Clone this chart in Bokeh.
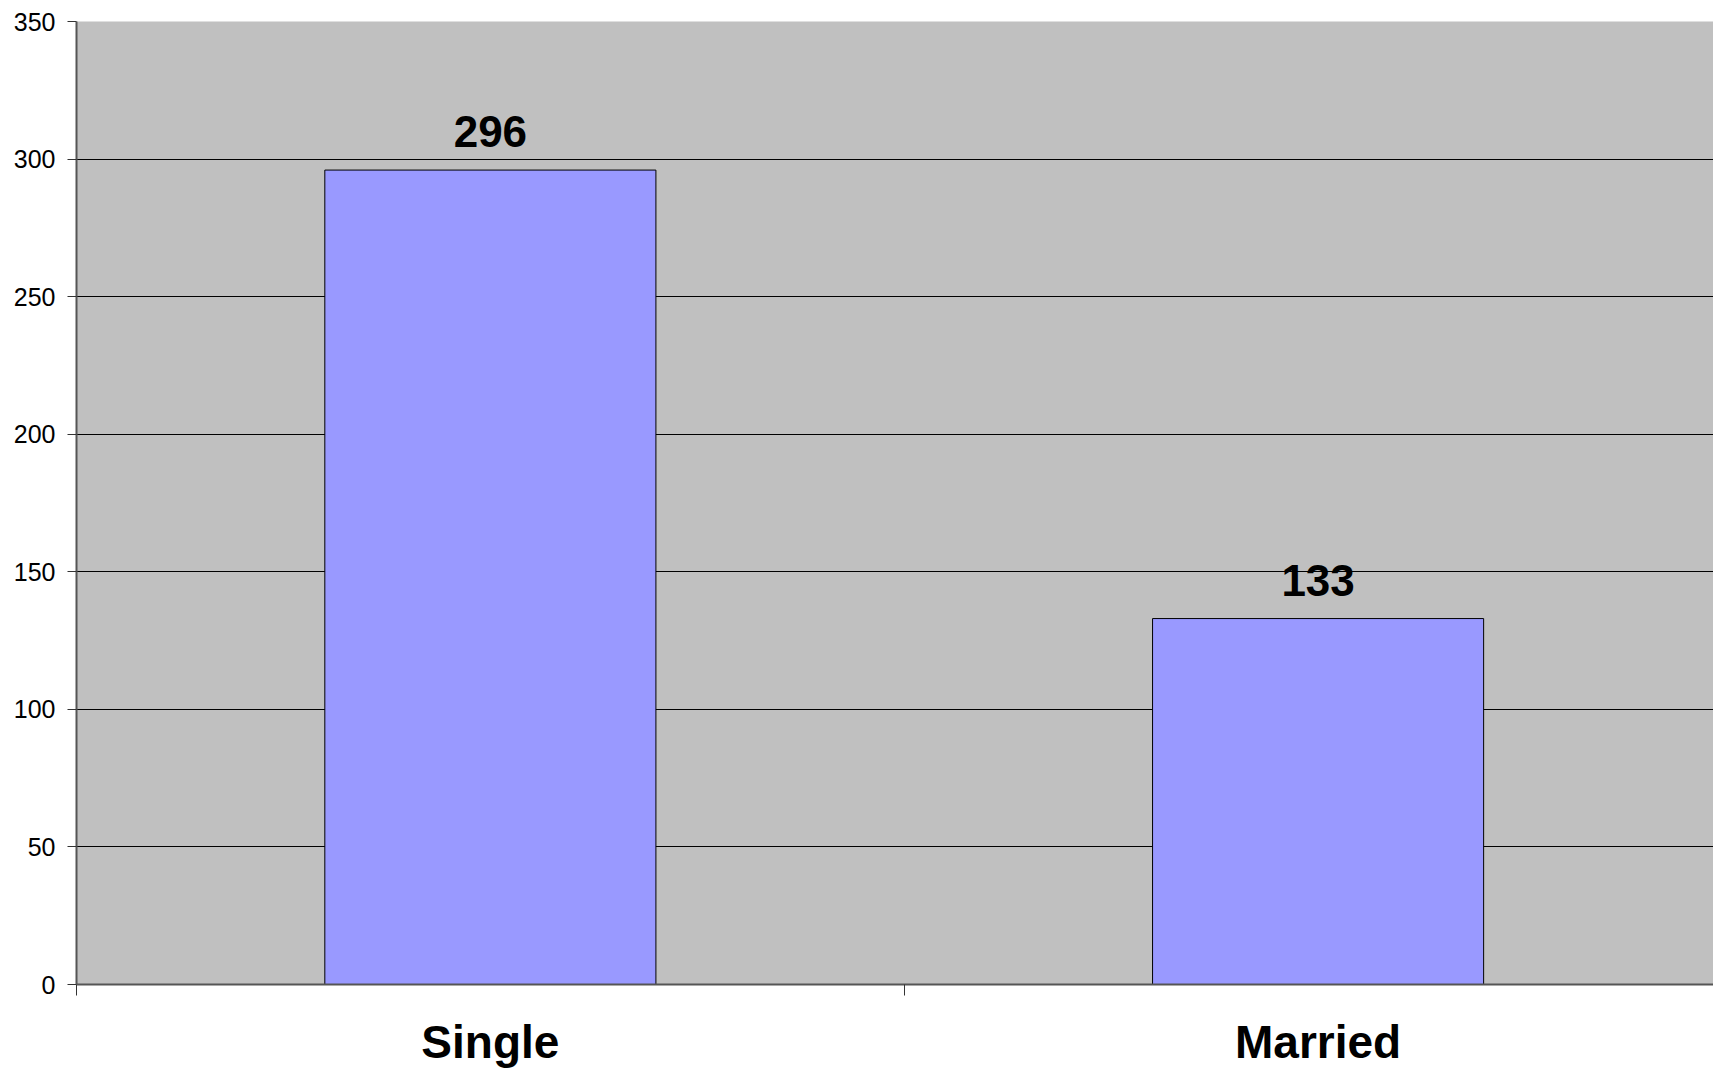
from bokeh.plotting import figure
from bokeh.models import Range1d, FixedTicker, ColumnDataSource, LabelSet
from bokeh.core.properties import value
from bokeh.embed import file_html
from bokeh.resources import INLINE

categories = ["Single", "Married"]
counts = [296, 133]
y_ticks = [0, 50, 100, 150, 200, 250, 300, 350]

xs = [i + 0.5 for i in range(len(categories))]
bounds = list(range(len(categories) + 1))
FONT = "Liberation Sans"

p = figure(width=1713, height=1071, output_backend="svg", toolbar_location=None,
           x_range=Range1d(0, 1.9777), y_range=Range1d(0, 350),
           min_border_left=76, min_border_right=0, min_border_top=21, min_border_bottom=87)
p.background_fill_color = "#C0C0C0"
p.border_fill_color = "white"
p.outline_line_color = None

src = ColumnDataSource(dict(x=xs, top=counts, label=[str(c) for c in counts]))
p.vbar(x="x", top="top", width=0.4, source=src, fill_color="#9999FF",
       line_color="black", line_width=1)

# y axis
p.yaxis.ticker = FixedTicker(ticks=y_ticks)
p.yaxis.major_label_text_font = FONT
p.yaxis.major_label_text_font_size = "25px"
p.yaxis.major_label_text_color = "black"
p.yaxis.major_tick_out = 9
p.yaxis.major_tick_in = 0
p.yaxis.minor_tick_line_color = None
p.yaxis.major_label_standoff = 12
p.yaxis.axis_line_color = "#555555"
p.yaxis.axis_line_width = 2
p.yaxis.major_tick_line_color = "#333333"

# x axis: labels at category centres, tick marks at category boundaries
p.xaxis.ticker = FixedTicker(ticks=xs, minor_ticks=bounds)
p.xaxis.major_label_overrides = {x: c for x, c in zip(xs, categories)}
p.xaxis.major_label_text_font = FONT
p.xaxis.major_label_text_font_style = "bold"
p.xaxis.major_label_text_font_size = "46px"
p.xaxis.major_label_text_color = "black"
p.xaxis.major_label_standoff = 20
p.xaxis.major_tick_out = 0
p.xaxis.major_tick_in = 0
p.xaxis.major_tick_line_color = None
p.xaxis.minor_tick_out = 11
p.xaxis.minor_tick_in = 0
p.xaxis.minor_tick_line_color = "#333333"
p.xaxis.axis_line_color = "#555555"
p.xaxis.axis_line_width = 2

p.xgrid.grid_line_color = None
p.ygrid.ticker = FixedTicker(ticks=y_ticks)
p.ygrid.grid_line_color = "black"
p.ygrid.grid_line_width = 1

vals = LabelSet(x="x", y="top", text="label", source=src, y_offset=23,
                text_align="center", text_baseline="alphabetic",
                text_font=value(FONT), text_font_style="bold",
                text_font_size="44px", text_color="black")
p.add_layout(vals)

open("out.html", "w").write(file_html(p, INLINE))
